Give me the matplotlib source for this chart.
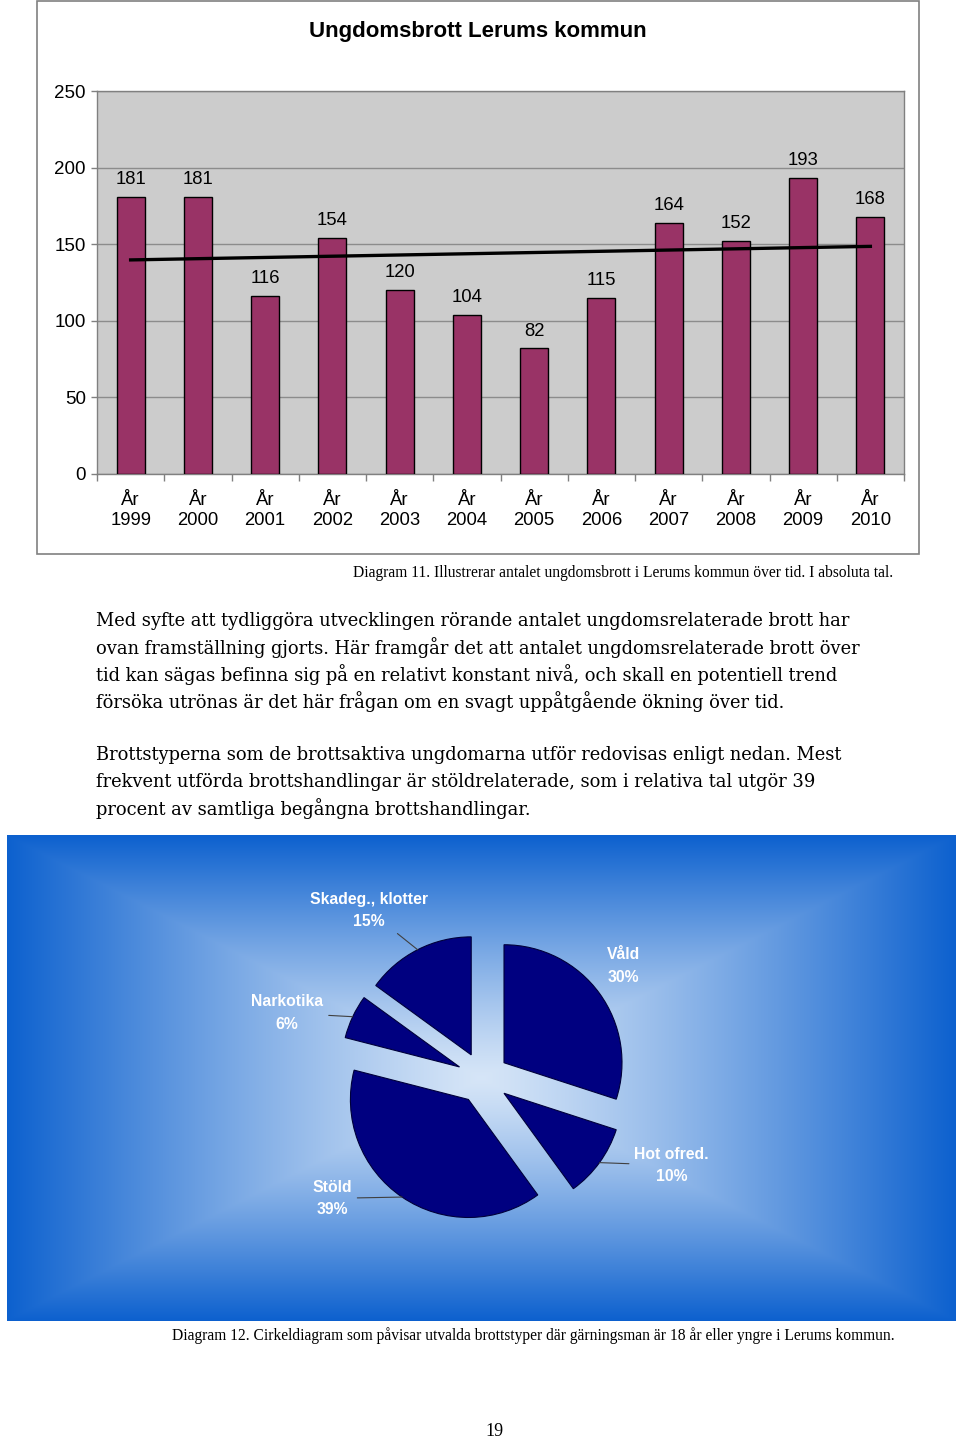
import numpy as np
import matplotlib
matplotlib.use("Agg")
import matplotlib.pyplot as plt
from matplotlib.patches import Rectangle

# ── DATA ─────────────────────────────────────────────────────────────────────
years = ['1999', '2000', '2001', '2002', '2003', '2004',
         '2005', '2006', '2007', '2008', '2009', '2010']
counts = [181, 181, 116, 154, 120, 104, 82, 115, 164, 152, 193, 168]

crime_types = ['Våld', 'Hot ofred.', 'Stöld', 'Narkotika', 'Skadeg., klotter']
crime_share = [30, 10, 39, 6, 15]

body_lines = [
    "Med syfte att tydliggöra utvecklingen rörande antalet ungdomsrelaterade brott har",
    "ovan framställning gjorts. Här framgår det att antalet ungdomsrelaterade brott över",
    "tid kan sägas befinna sig på en relativt konstant nivå, och skall en potentiell trend",
    "försöka utrönas är det här frågan om en svagt uppåtgående ökning över tid.",
]
body_lines2 = [
    "Brottstyperna som de brottsaktiva ungdomarna utför redovisas enligt nedan. Mest",
    "frekvent utförda brottshandlingar är stöldrelaterade, som i relativa tal utgör 39",
    "procent av samtliga begångna brottshandlingar.",
]
caption1 = "Diagram 11. Illustrerar antalet ungdomsbrott i Lerums kommun över tid. I absoluta tal."
caption2 = ("Diagram 12. Cirkeldiagram som påvisar utvalda brottstyper där gärningsman "
            "är 18 år eller yngre i Lerums kommun.")

W, H = 960, 1439
def fx(px): return px / W
def fy(py): return 1 - py / H

fig = plt.figure(figsize=(W / 100, H / 100), dpi=100)
fig.patch.set_facecolor('white')

# ── BAR CHART ────────────────────────────────────────────────────────────────
fig.patches.append(Rectangle((fx(37), fy(554)), fx(919) - fx(37), fy(1) - fy(554),
                             transform=fig.transFigure, fill=False,
                             edgecolor='#808080', lw=1.2))
fig.text(fx(478), fy(31), "Ungdomsbrott Lerums kommun", ha='center', va='center',
         fontsize=16, fontweight='bold', family='Liberation Sans')

ax = fig.add_axes([fx(97), fy(474), (904 - 97) / W, (474 - 91) / H])
ax.set_facecolor('#CCCCCC')
x = np.arange(len(years))
ax.bar(x, counts, width=0.42, color='#993366', edgecolor='black', lw=1.0, zorder=3)
for xi, v in zip(x, counts):
    ax.annotate(str(v), (xi, v), xytext=(0, 12.5), textcoords='offset points',
                ha='center', va='center', fontsize=13.3, family='Liberation Sans')

k, m = np.polyfit(x, counts, 1)
ax.plot([x[0], x[-1]], [m + k * x[0], m + k * x[-1]], color='black', lw=2.4, zorder=4)

ax.set_xlim(-0.5, len(years) - 0.5)
ax.set_ylim(0, 250)
ax.set_yticks(range(0, 251, 50))
ax.grid(axis='y', color='#8C8C8C', lw=1.0, zorder=0)
ax.tick_params(axis='y', length=4, width=1, color='#808080', pad=4, labelsize=13.5)
for lbl in ax.get_yticklabels():
    lbl.set_family('Liberation Sans')
ax.set_xticks(x)
ax.set_xticklabels([f"År\n{y}" for y in years], family='Liberation Sans',
                   fontsize=13.3, linespacing=1.25)
ax.tick_params(axis='x', length=0, pad=13)
ax.set_xticks(np.arange(-0.5, len(years)), minor=True)
ax.tick_params(axis='x', which='minor', length=5, width=1, color='#808080')
for s in ax.spines.values():
    s.set_color('#808080')
    s.set_linewidth(1.0)

fig.text(fx(353), fy(573), caption1, ha='left', va='center', fontsize=11.2,
         family='Liberation Serif')

# ── BODY TEXT ────────────────────────────────────────────────────────────────
for i, line in enumerate(body_lines):
    fig.text(fx(96), fy(621 + i * 26.7), line, ha='left', va='center',
             fontsize=12.9, family='DejaVu Serif')
for i, line in enumerate(body_lines2):
    fig.text(fx(96), fy(755 + i * 26.7), line, ha='left', va='center',
             fontsize=12.9, family='DejaVu Serif')

# ── PIE CHART ────────────────────────────────────────────────────────────────
box_l, box_r, box_t, box_b = 7, 956, 835, 1321
cx, cy, r_px = 483, 1078, 118
pax = fig.add_axes([fx(box_l), fy(box_b), (box_r - box_l) / W, (box_b - box_t) / H])

xl = ((box_l - cx) / r_px, (box_r - cx) / r_px)
yl = ((cy - box_b) / r_px, (cy - box_t) / r_px)

# rectangular gradient background
gx = np.linspace(box_l, box_r, 480)
gy = np.linspace(box_t, box_b, 250)
GX, GY = np.meshgrid(gx, gy)
t = np.maximum(np.abs(GX - (box_l + box_r) / 2) / ((box_r - box_l) / 2),
               np.abs(GY - (box_t + box_b) / 2) / ((box_b - box_t) / 2))
t = t ** 1.2
c_in = np.array([0.84, 0.90, 0.97])
c_out = np.array([0.05, 0.38, 0.81])
img = c_in[None, None, :] + (c_out - c_in)[None, None, :] * t[:, :, None]
pax.imshow(img, extent=(xl[0], xl[1], yl[0], yl[1]), origin='upper',
           aspect='auto', zorder=0, interpolation='bilinear')

wedges, _ = pax.pie(crime_share, startangle=90, counterclock=False,
                    explode=[0.22] * len(crime_share), colors=['#000080'] * len(crime_share),
                    wedgeprops=dict(edgecolor='#00003A', lw=0.8, zorder=2))
pax.set_xlim(*xl)
pax.set_ylim(*yl)
pax.set_aspect('auto')
pax.set_axis_on()
pax.set_xticks([])
pax.set_yticks([])
for s in pax.spines.values():
    s.set_color('#1E3A78')
    s.set_linewidth(1.2)

# label placement (layout, in pie-radius units)
label_pos = [(1.19, 0.95), (1.60, -0.74), (-1.28, -1.02), (-1.66, 0.55), (-0.97, 1.42)]
leader = [False, True, True, True, True]
total = sum(crime_share)
start = 0.0
for name, share, pos, lead in zip(crime_types, crime_share, label_pos, leader):
    mid = np.deg2rad(start + share / total * 360 / 2)
    start += share / total * 360
    edge = (1.22 * np.sin(mid), 1.22 * np.cos(mid))
    props = dict(arrowstyle='-', color='#404040', lw=0.8, shrinkA=2, shrinkB=0) if lead else None
    pax.annotate(f"{name}\n{share}%", xy=edge, xytext=pos, ha='center', va='center',
                 color='white', fontsize=11.3, fontweight='bold', family='Liberation Sans',
                 linespacing=1.6, arrowprops=props, zorder=5)

fig.text(fx(172), fy(1336), caption2, ha='left', va='center', fontsize=11.2,
         family='Liberation Serif')
fig.text(fx(494), fy(1431), "19", ha='center', va='center', fontsize=13,
         family='Liberation Serif')

plt.savefig("out.png", dpi=100)
